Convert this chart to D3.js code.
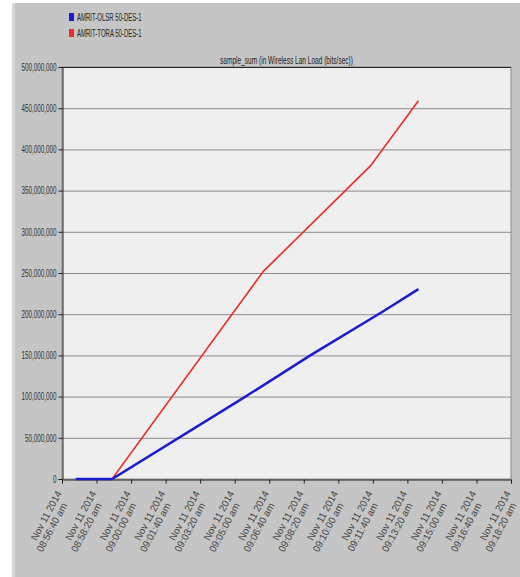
<!DOCTYPE html>
<html>
<head>
<meta charset="utf-8">
<script src="https://cdn.jsdelivr.net/npm/d3@7"></script>
<style>
  html, body { margin: 0; padding: 0; background: #ffffff; }
  svg { display: block; }
  text { font-family: "Liberation Sans Narrow", "Liberation Sans", Arial, sans-serif; }
</style>
</head>
<body>
<svg id="chart" width="520" height="577"></svg>
<script>
// Series names and colours
const seriesNames = ["AMRIT-OLSR 50-DES-1", "AMRIT-TORA 50-DES-1"];
const seriesColors = ["#1c1ccf", "#ee2a2a"];

// Sample times (hh:mm:ss, Nov 11 2014) and accumulated load (bits/sec)
const olsrTimes  = ["08:57:20", "08:59:05", "09:05:16", "09:08:39", "09:12:08", "09:13:52"];
const olsrValues = [0, 0, 96000000, 150000000, 203000000, 230500000];
const toraTimes  = ["08:57:20", "08:59:05", "09:06:23", "09:11:33", "09:13:52"];
const toraValues = [0, 0, 252000000, 380000000, 459000000];

// Axis ticks
const xTickTimes  = ["08:56:40", "08:58:20", "09:00:00", "09:01:40", "09:03:20", "09:05:00", "09:06:40",
                     "09:08:20", "09:10:00", "09:11:40", "09:13:20", "09:15:00", "09:16:40", "09:18:20"];
const yTickValues = [0, 50000000, 100000000, 150000000, 200000000, 250000000, 300000000, 350000000, 400000000, 450000000, 500000000];

const chartTitle = "sample_sum (in Wireless Lan Load (bits/sec))";
const dateLabel = "Nov 11 2014";

const parseTime = d3.timeParse("%Y-%m-%d %H:%M:%S");
const toDate = t => parseTime("2014-11-11 " + t);

// Squeeze text horizontally to get a narrow typeface look
function condense(sel, factor) {
  sel.each(function () {
    const w = this.getComputedTextLength();
    d3.select(this).attr("textLength", w * factor).attr("lengthAdjust", "spacingAndGlyphs");
  });
}

const svg = d3.select("#chart");
const W = 520, H = 577;
const plot = { left: 62, right: 511, top: 67, bottom: 479 };

// Gray panel behind everything
svg.append("rect").attr("x", 12).attr("y", 3).attr("width", W - 12).attr("height", H - 3).attr("fill", "#c5c5c5");
svg.append("rect").attr("x", 12).attr("y", 3).attr("width", 3).attr("height", H - 3).attr("fill", "#d6d6d6");

const x = d3.scaleTime()
  .domain([toDate(xTickTimes[0]), toDate(xTickTimes[xTickTimes.length - 1])])
  .range([plot.left, plot.right]);
const y = d3.scaleLinear().domain([0, 500000000]).range([plot.bottom, plot.top]);

// Plot area
svg.append("rect")
  .attr("x", plot.left).attr("y", plot.top)
  .attr("width", plot.right - plot.left).attr("height", plot.bottom - plot.top)
  .attr("fill", "#efefef").attr("stroke", "#8a8a8a");

// Horizontal grid lines
svg.append("g").selectAll("line").data(yTickValues.slice(1)).join("line")
  .attr("x1", plot.left).attr("x2", plot.right)
  .attr("y1", d => y(d) + 0.5).attr("y2", d => y(d) + 0.5)
  .attr("stroke", "#8c8c8c").attr("stroke-width", 1);

// Top border line
svg.append("line").attr("x1", plot.left).attr("x2", plot.right)
  .attr("y1", plot.top + 0.5).attr("y2", plot.top + 0.5).attr("stroke", "#222");

// Y axis
const yAxis = d3.axisLeft(y).tickValues(yTickValues).tickSize(4).tickPadding(2)
  .tickFormat(d3.format(","));
const gy = svg.append("g").attr("transform", `translate(${plot.left + 0.5},0)`).call(yAxis);
gy.select(".domain").attr("stroke", "#222");
gy.selectAll(".tick line").attr("stroke", "#222");
gy.selectAll(".tick text").attr("fill", "#333").attr("font-size", 10)
  .style("font-family", "'Liberation Sans Narrow', 'Liberation Sans', Arial, sans-serif")
  .call(condense, 0.63);

// X axis
const xAxis = d3.axisBottom(x).tickValues(xTickTimes.map(toDate)).tickSize(4).tickFormat("");
const gx = svg.append("g").attr("transform", `translate(0,${plot.bottom + 0.5})`).call(xAxis);
gx.select(".domain").attr("stroke", "#222");
gx.selectAll(".tick line").attr("stroke", "#222");

// Rotated two-line time labels
const fmtClock = d3.timeFormat("%H:%M:%S");
const xl = svg.append("g").selectAll("g").data(xTickTimes).join("g")
  .attr("transform", t => `translate(${x(toDate(t)) - 3},${plot.bottom + 7}) rotate(-62)`);
xl.append("text").attr("text-anchor", "end").attr("x", -5).attr("y", 6)
  .attr("font-size", 10).attr("fill", "#444").text(dateLabel).call(condense, 0.97);
xl.append("text").attr("text-anchor", "end").attr("x", -13).attr("y", 16.5)
  .attr("font-size", 10).attr("fill", "#444").text(t => fmtClock(toDate(t)) + " am").call(condense, 0.97);

// Title
svg.append("text").attr("x", (plot.left + plot.right) / 2).attr("y", 64)
  .attr("text-anchor", "middle").attr("font-size", 10).attr("fill", "#222").text(chartTitle)
  .call(condense, 0.655);

// Lines
const line = d3.line().x(d => x(d[0])).y(d => y(d[1]));
const olsr = olsrTimes.map((t, i) => [toDate(t), olsrValues[i]]);
const tora = toraTimes.map((t, i) => [toDate(t), toraValues[i]]);
svg.append("path").datum(tora).attr("d", line).attr("fill", "none")
  .attr("stroke", seriesColors[1]).attr("stroke-width", 1.6);
svg.append("path").datum(olsr).attr("d", line).attr("fill", "none")
  .attr("stroke", seriesColors[0]).attr("stroke-width", 2.5);

// Legend
const lg = svg.append("g").selectAll("g").data(seriesNames).join("g")
  .attr("transform", (d, i) => `translate(69,${13 + i * 16})`);
lg.append("rect").attr("width", 5).attr("height", 8).attr("fill", (d, i) => seriesColors[i]);
lg.append("text").attr("x", 8).attr("y", 7.8).attr("font-size", 10).attr("fill", "#222").text(d => d)
  .call(condense, 0.6);
</script>
</body>
</html>
